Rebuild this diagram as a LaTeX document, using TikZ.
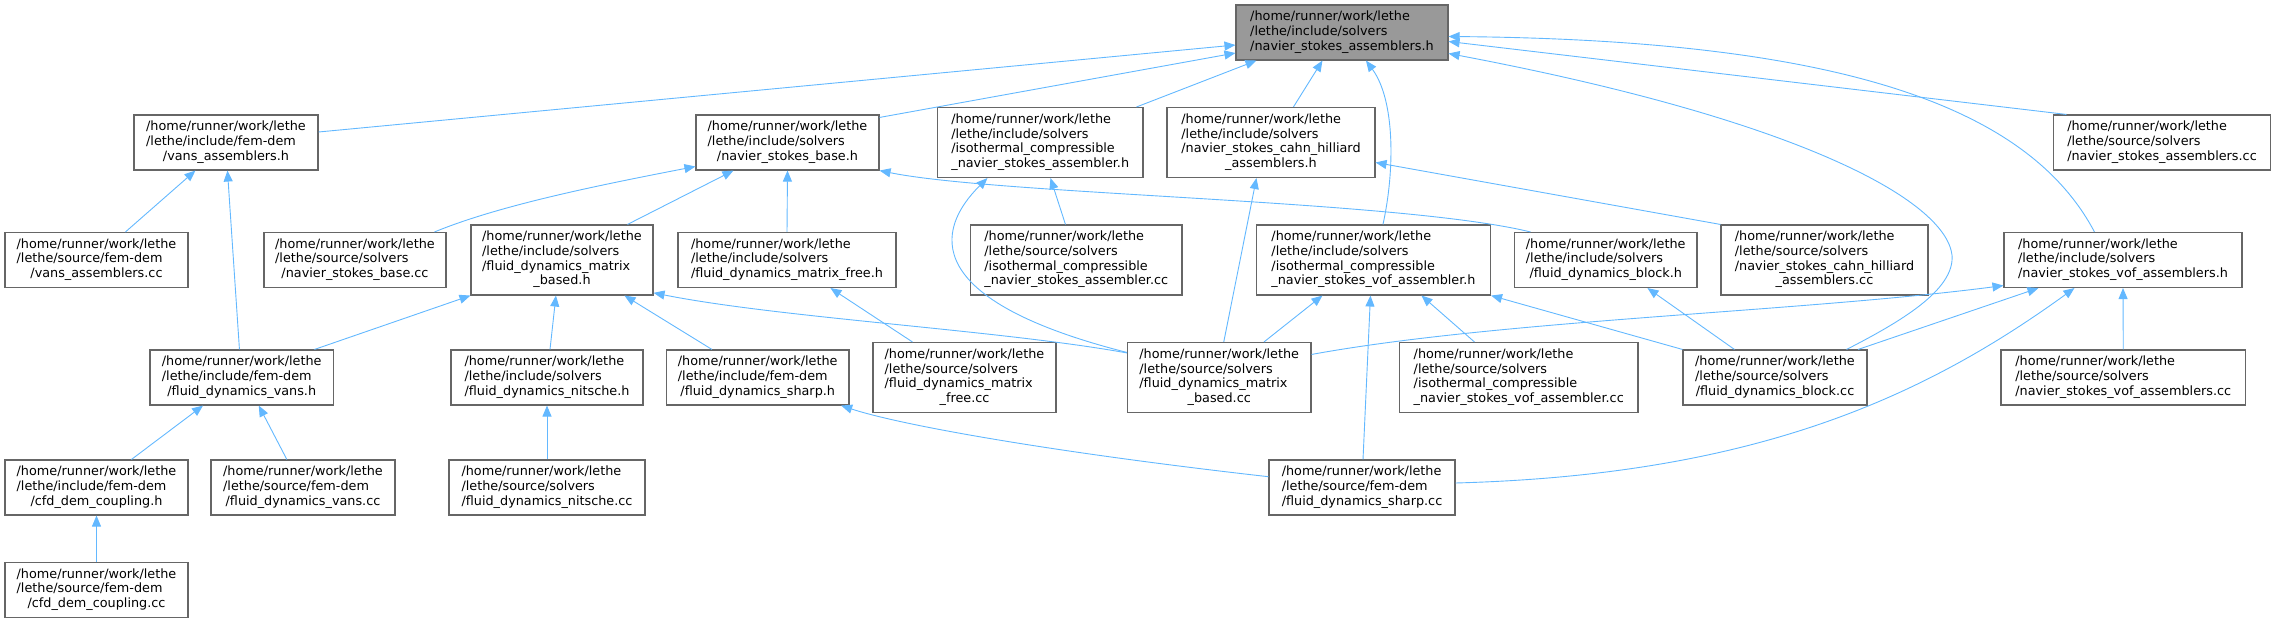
\documentclass[tikz,border=0pt]{standalone}
\usepackage{fontspec}
\setmainfont{DejaVu Sans}
\usetikzlibrary{arrows.meta}
\definecolor{grey40}{HTML}{666666}
\definecolor{grey60}{HTML}{999999}
\definecolor{steelblue}{HTML}{63B8FF}
\newcommand\lbox[1]{\begin{tabular}{@{}l@{}}#1\end{tabular}}
\newcommand\lastl[1]{\multicolumn{1}{@{}c@{}}{#1}}
\newcommand\nd[7][]{\node[box,#1,minimum width=#5pt,minimum height=#6pt] (#2) at (#3,#4) {\lbox{#7}};}
\begin{document}
\begin{tikzpicture}[x=1pt,y=-1pt,
  box/.style={draw=grey40,fill=white,line width=1.1pt,inner sep=0pt,
    font=\fontsize{12.8pt}{14.7pt}\selectfont},
  edge/.style={draw=steelblue,line width=0.9pt,-{Triangle[length=11pt,width=9pt]}}]
\useasboundingbox (0,0) rectangle (2275,623);
% rank 1
\nd[fill=grey60]{main}{1342}{32.5}{212}{55}{/home/runner/work/lethe\\/lethe/include/solvers\\\lastl{/navier\_stokes\_assemblers.h}}
% rank 2
\nd{vah}{226}{142.5}{184}{55}{/home/runner/work/lethe\\/lethe/include/fem-dem\\\lastl{/vans\_assemblers.h}}
\nd{nsbh}{787.5}{142.5}{183}{55}{/home/runner/work/lethe\\/lethe/include/solvers\\\lastl{/navier\_stokes\_base.h}}
\nd{isoh}{1040.25}{142.5}{205.5}{70}{/home/runner/work/lethe\\/lethe/include/solvers\\/isothermal\_compressible\\\lastl{\_navier\_stokes\_assembler.h}}
\nd{cahnh}{1271}{142.5}{208}{70}{/home/runner/work/lethe\\/lethe/include/solvers\\/navier\_stokes\_cahn\_hilliard\\\lastl{\_assemblers.h}}
\nd{nsacc}{2162}{142.5}{217}{55}{/home/runner/work/lethe\\/lethe/source/solvers\\\lastl{/navier\_stokes\_assemblers.cc}}
% rank 3
\nd{vacc}{96.5}{260}{183}{55}{/home/runner/work/lethe\\/lethe/source/fem-dem\\\lastl{/vans\_assemblers.cc}}
\nd{nsbcc}{355}{260}{182}{55}{/home/runner/work/lethe\\/lethe/source/solvers\\\lastl{/navier\_stokes\_base.cc}}
\nd{fdmbh}{562}{260}{182}{70}{/home/runner/work/lethe\\/lethe/include/solvers\\/fluid\_dynamics\_matrix\\\lastl{\_based.h}}
\nd{fdmfh}{787}{260}{218}{55}{/home/runner/work/lethe\\/lethe/include/solvers\\\lastl{/fluid\_dynamics\_matrix\_free.h}}
\nd{isocc}{1076.25}{260}{211.5}{70}{/home/runner/work/lethe\\/lethe/source/solvers\\/isothermal\_compressible\\\lastl{\_navier\_stokes\_assembler.cc}}
\nd{isovofh}{1373.5}{260}{234}{70}{/home/runner/work/lethe\\/lethe/include/solvers\\/isothermal\_compressible\\\lastl{\_navier\_stokes\_vof\_assembler.h}}
\nd{fdbh}{1605.75}{260}{182.5}{55}{/home/runner/work/lethe\\/lethe/include/solvers\\\lastl{/fluid\_dynamics\_block.h}}
\nd{cahncc}{1824.5}{260}{207}{70}{/home/runner/work/lethe\\/lethe/source/solvers\\/navier\_stokes\_cahn\_hilliard\\\lastl{\_assemblers.cc}}
\nd{nsvofh}{2123}{260}{238}{55}{/home/runner/work/lethe\\/lethe/include/solvers\\\lastl{/navier\_stokes\_vof\_assemblers.h}}
% rank 4
\nd{fdvh}{241.75}{377.5}{183.5}{55}{/home/runner/work/lethe\\/lethe/include/fem-dem\\\lastl{/fluid\_dynamics\_vans.h}}
\nd{nitscheh}{547}{377.5}{192}{55}{/home/runner/work/lethe\\/lethe/include/solvers\\\lastl{/fluid\_dynamics\_nitsche.h}}
\nd{sharph}{757.75}{377.5}{182.5}{55}{/home/runner/work/lethe\\/lethe/include/fem-dem\\\lastl{/fluid\_dynamics\_sharp.h}}
\nd{fdmfcc}{964.5}{377.5}{183}{70}{/home/runner/work/lethe\\/lethe/source/solvers\\/fluid\_dynamics\_matrix\\\lastl{\_free.cc}}
\nd{fdmbcc}{1219.25}{377.5}{183.5}{70}{/home/runner/work/lethe\\/lethe/source/solvers\\/fluid\_dynamics\_matrix\\\lastl{\_based.cc}}
\nd{isovofcc}{1518.75}{377.5}{238.5}{70}{/home/runner/work/lethe\\/lethe/source/solvers\\/isothermal\_compressible\\\lastl{\_navier\_stokes\_vof\_assembler.cc}}
\nd{fdbcc}{1775}{377.5}{184}{55}{/home/runner/work/lethe\\/lethe/source/solvers\\\lastl{/fluid\_dynamics\_block.cc}}
\nd{nsvofcc}{2123.25}{377.5}{244.5}{55}{/home/runner/work/lethe\\/lethe/source/solvers\\\lastl{/navier\_stokes\_vof\_assemblers.cc}}
% rank 5
\nd{cfdh}{96.5}{487.5}{183}{55}{/home/runner/work/lethe\\/lethe/include/fem-dem\\\lastl{/cfd\_dem\_coupling.h}}
\nd{fdvcc}{303}{487.5}{184}{55}{/home/runner/work/lethe\\/lethe/source/fem-dem\\\lastl{/fluid\_dynamics\_vans.cc}}
\nd{nitschecc}{547}{487.5}{196}{55}{/home/runner/work/lethe\\/lethe/source/solvers\\\lastl{/fluid\_dynamics\_nitsche.cc}}
\nd{sharpcc}{1362}{487.5}{186}{55}{/home/runner/work/lethe\\/lethe/source/fem-dem\\\lastl{/fluid\_dynamics\_sharp.cc}}
% rank 6
\nd{cfdcc}{96.5}{590}{183}{55}{/home/runner/work/lethe\\/lethe/source/fem-dem\\\lastl{/cfd\_dem\_coupling.cc}}
% edges into main
\draw[edge] ([yshift=10.5pt]vah.east) -- ([yshift=-12.5pt]main.west);
\draw[edge] ([yshift=-3pt]nsbh.north east) -- ([yshift=-20.5pt]main.west);
\draw[edge] ([xshift=-7pt]isoh.north east) -- ([xshift=21pt]main.south west);
\draw[edge] ([xshift=127pt]cahnh.north west) -- ([xshift=87pt]main.south west);
\draw[edge] ([xshift=127pt]isovofh.north west) .. controls (1395,170) and (1395,100) .. ([xshift=130.5pt]main.south west);
\draw[edge] ([xshift=-21pt]fdbcc.north east) .. controls (1900,322) and (1955,290) .. (1952,255) .. controls (1945,200) and (1800,120) .. ([yshift=-21pt]main.east);
\draw[edge] ([xshift=13.5pt]nsacc.north west) -- ([yshift=-9pt]main.east);
\draw[edge] ([xshift=91pt]nsvofh.north west) .. controls (2030,110) and (1850,40) .. ([yshift=-4pt]main.east);
% rank 2 targets
\draw[edge] ([xshift=121pt]vacc.north west) -- ([xshift=62pt]vah.south west);
\draw[edge] ([xshift=90pt]fdvh.north west) -- ([xshift=94pt]vah.south west);
\draw[edge] ([xshift=-12pt]nsbcc.north east) .. controls (500,205) and (600,185) .. ([yshift=-24pt]nsbh.west);
\draw[edge] ([xshift=157pt]fdmbh.north west) -- ([xshift=38pt]nsbh.south west);
\draw[edge] (fdmfh.north) -- (nsbh.south);
\draw[edge] ([xshift=16.5pt]fdbh.north west) .. controls (1400,200) and (1000,195) .. (nsbh.south east);
\draw[edge] ([xshift=95.5pt]isocc.north west) -- ([xshift=113.5pt]isoh.south west);
\draw[edge] ([yshift=-10.5pt]fdmbcc.north west) .. controls (920,300) and (935,230) .. ([xshift=50.5pt]isoh.south west);
\draw[edge] ([xshift=4.5pt]fdmbcc.north) -- ([xshift=90pt]cahnh.south west);
\draw[edge] (cahncc.north west) -- ([yshift=-20pt]cahnh.east);
% rank 3 targets
\draw[edge] ([xshift=165pt]fdvh.north west) -- (fdmbh.south west);
\draw[edge] ([xshift=3pt]nitscheh.north) -- ([xshift=85.5pt]fdmbh.south west);
\draw[edge] ([xshift=46pt]sharph.north west) -- ([xshift=154pt]fdmbh.south west);
\draw[edge] ([yshift=-11pt]fdmbcc.north west) .. controls (1000,330) and (780,318) .. ([yshift=2.7pt]fdmbh.south east);
\draw[edge] ([xshift=40pt]fdmfcc.north west) -- ([xshift=153pt]fdmfh.south west);
\draw[edge] ([xshift=75.5pt]isovofcc.north west) -- ([xshift=165.5pt]isovofh.south west);
\draw[edge] ([xshift=137pt]fdmbcc.north west) -- ([xshift=66.5pt]isovofh.south west);
\draw[edge] ([xshift=1pt]sharpcc.north) -- ([xshift=114.5pt]isovofh.south west);
\draw[edge] (fdbcc.north west) -- (isovofh.south east);
\draw[edge] ([xshift=52pt]fdbcc.north west) -- ([xshift=133.5pt]fdbh.south west);
\draw[edge] ([yshift=-12.5pt]fdmbcc.north east) .. controls (1500,320) and (1800,312) .. ([yshift=2.5pt]nsvofh.south west);
\draw[edge] ([xshift=-9.5pt]fdbcc.north east) -- ([xshift=35pt]nsvofh.south west);
\draw[edge] ([yshift=4.5pt]sharpcc.east) .. controls (1750,475) and (1920,400) .. ([xshift=71pt]nsvofh.south west);
\draw[edge] (nsvofcc.north) -- (nsvofh.south);
% rank 4/5 targets
\draw[edge] ([xshift=127pt]cfdh.north west) -- ([xshift=53.6pt]fdvh.south west);
\draw[edge] ([xshift=76.4pt]fdvcc.north west) -- ([xshift=109.3pt]fdvh.south west);
\draw[edge] (nitschecc.north) -- (nitscheh.south);
\draw[edge] ([yshift=10.8pt]sharpcc.west) .. controls (1050,452) and (900,425) .. ([xshift=-8.4pt]sharph.south east);
\draw[edge] (cfdcc.north) -- (cfdh.south);
\end{tikzpicture}
\end{document}
